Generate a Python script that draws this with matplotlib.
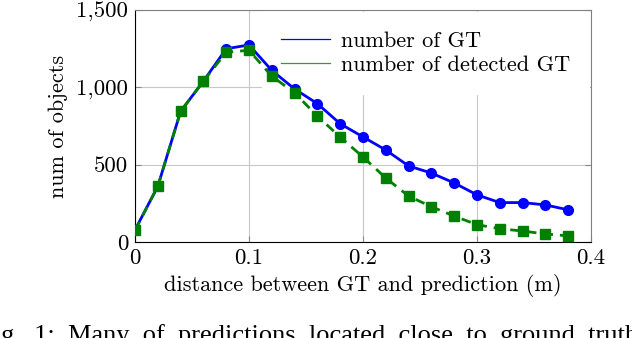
import matplotlib.pyplot as plt
from matplotlib.ticker import FuncFormatter

plt.rcParams["font.family"] = ["cmr10", "DejaVu Serif"]
plt.rcParams["mathtext.fontset"] = "cm"
plt.rcParams["axes.unicode_minus"] = False

# distance between GT and prediction (m)
dist = [0.0, 0.02, 0.04, 0.06, 0.08, 0.10, 0.12, 0.14, 0.16, 0.18,
        0.20, 0.22, 0.24, 0.26, 0.28, 0.30, 0.32, 0.34, 0.36, 0.38]
num_gt = [78, 360, 845, 1040, 1250, 1275, 1110, 990, 895, 765,
          680, 595, 492, 446, 382, 305, 255, 255, 240, 208]
num_detected = [75, 360, 845, 1040, 1228, 1240, 1073, 965, 814, 679,
                550, 414, 297, 228, 168, 112, 86, 71, 52, 40]

caption_words = ["Fig.", "1:", "Many", "of", "predictions", "located",
                 "close", "to", "ground", "truth"]

fig = plt.figure(figsize=(6.32, 3.38), dpi=100)
ax = fig.add_axes([0.2136, 0.284, 0.7215, 0.686])

ax.plot(dist, num_gt, color="blue", lw=2.0, marker="o", markersize=7,
        zorder=3)
ax.plot(dist, num_detected, color="green", lw=2.0, ls=(0, (3.5, 2.5)),
        marker="s", markersize=7.5, zorder=4)

# legend uses thin lines without markers
ax.plot([], [], color="blue", lw=0.9, label="number of GT")
ax.plot([], [], color="#2ca02c", lw=0.9, label="number of detected GT")
handles, labels = ax.get_legend_handles_labels()
leg = ax.legend(handles, labels, loc="upper right", fontsize=16,
                frameon=True, fancybox=False, framealpha=1,
                edgecolor="white", borderaxespad=0.1, handlelength=2.2,
                handletextpad=0.5, labelspacing=0.2, borderpad=0.85)
# above the grid, below the data lines
leg.set_zorder(2.5)

ax.set_xlim(0, 0.4)
ax.set_ylim(0, 1500)
ax.set_xticks([0, 0.1, 0.2, 0.3, 0.4])
ax.set_yticks([0, 500, 1000, 1500])
ax.xaxis.set_major_formatter(FuncFormatter(lambda v, p: "0" if v == 0 else f"{v:.1f}"))
ax.yaxis.set_major_formatter(FuncFormatter(lambda v, p: f"{int(v):,}"))
ax.grid(True, color="#c8c8c8", lw=0.8)
ax.set_axisbelow(True)
ax.tick_params(direction="in", length=4, labelsize=16.5, top=False, right=True,
               colors="#888888", labelcolor="black", pad=5)
for s in ["top", "right"]:
    ax.spines[s].set_color("#808080")
ax.spines["left"].set_color("black")
ax.spines["bottom"].set_color("black")

ax.set_xlabel("distance between GT and prediction (m)", fontsize=16, labelpad=4)
ax.set_ylabel("num of objects", fontsize=16, labelpad=6)

# caption of the paper figure, justified and cut off by the image border
fig.text(-0.034, -0.012, "  ".join(caption_words), fontsize=19,
         family="Liberation Serif", ha="left", va="baseline")

fig.savefig("out.png", dpi=100)
